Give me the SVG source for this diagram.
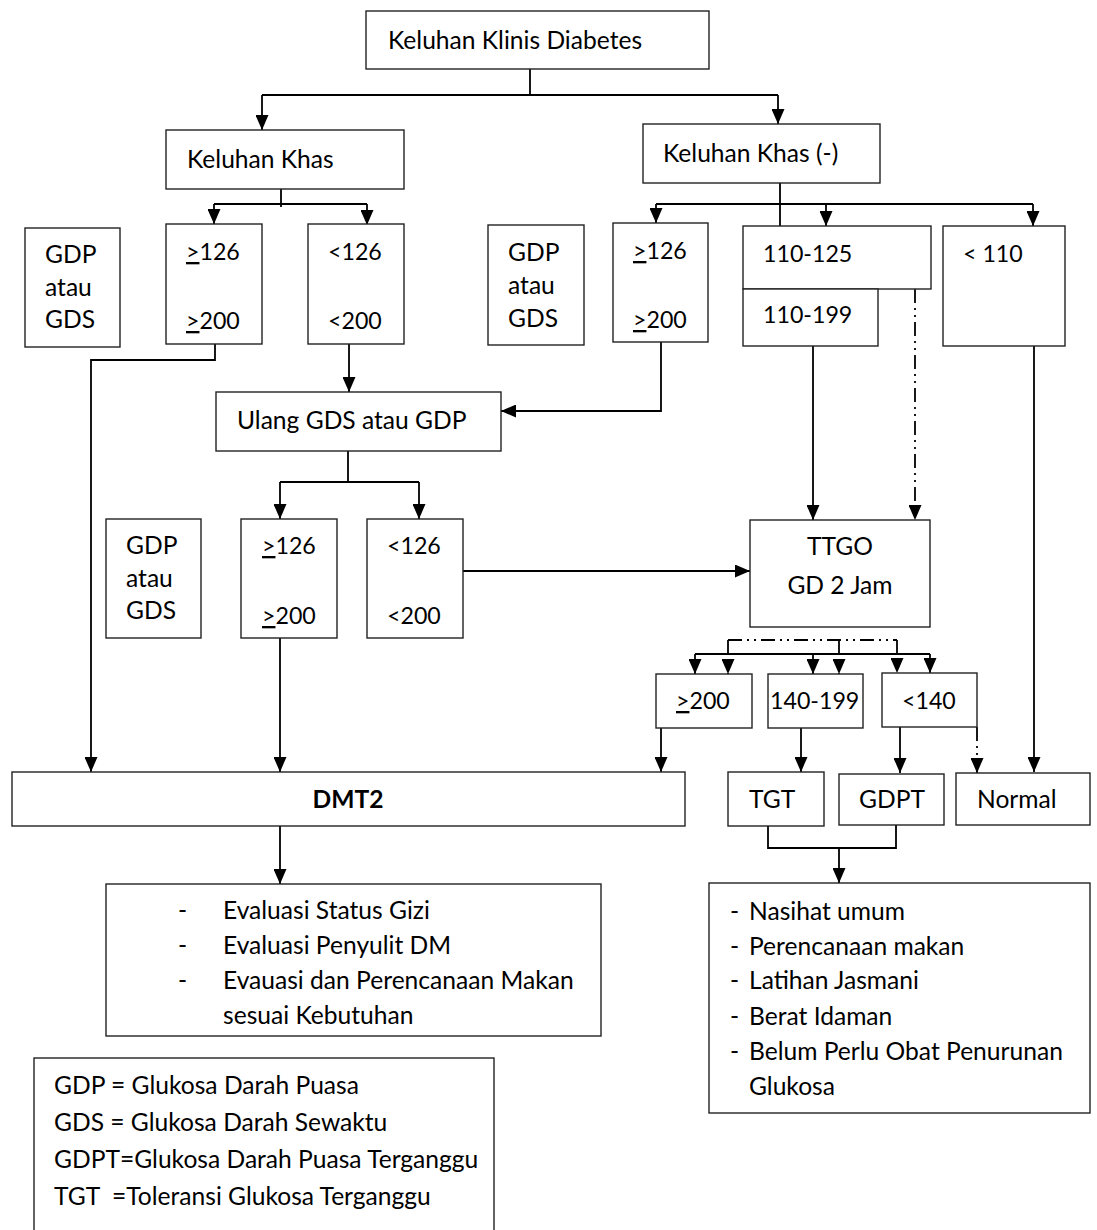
<svg xmlns="http://www.w3.org/2000/svg" width="1097" height="1230" viewBox="0 0 1097 1230">
  <style>
    .box { fill: #fff; stroke: #222; stroke-width: 1.4; }
    .t { font-family: Lato, "Liberation Sans", sans-serif; font-size: 24.6px; fill: #000; }
    .n { font-size: 23.2px; }
    .c { text-anchor: middle; }
    .b { font-weight: bold; }
    .ln { fill: none; stroke: #000; stroke-width: 1.8; }
    .dd { fill: none; stroke: #000; stroke-width: 1.8; stroke-dasharray: 14 5 2 5 2 5; }
    .u { text-decoration: underline; }
  </style>
  <defs>
    <marker id="arrow" viewBox="0 0 15 13" refX="15" refY="6.5" markerWidth="15" markerHeight="13" markerUnits="userSpaceOnUse" orient="auto">
      <path d="M0,0 L15,6.5 L0,13 z" fill="#000"/>
    </marker>
  </defs>

  <!-- connectors -->
  <g id="connectors">
    <path class="ln" d="M530,69 V95 M262,95 H778"/>
    <path class="ln" d="M262,95 V130" marker-end="url(#arrow)"/>
    <path class="ln" d="M778,95 V124" marker-end="url(#arrow)"/>

    <path class="ln" d="M281,189 V207 M214,204 H367"/>
    <path class="ln" d="M214,204 V224" marker-end="url(#arrow)"/>
    <path class="ln" d="M367,204 V225" marker-end="url(#arrow)"/>

    <path class="ln" d="M780,183 V226 M656,204 H1033"/>
    <path class="ln" d="M656,204 V223" marker-end="url(#arrow)"/>
    <path class="ln" d="M826,204 V226" marker-end="url(#arrow)"/>
    <path class="ln" d="M1033,204 V226" marker-end="url(#arrow)"/>

    <path class="ln" d="M215,344 V360 H91 V772" marker-end="url(#arrow)"/>
    <path class="ln" d="M349,344 V392" marker-end="url(#arrow)"/>
    <path class="ln" d="M661,342 V411 H501" marker-end="url(#arrow)"/>
    <path class="ln" d="M813,346 V520" marker-end="url(#arrow)"/>
    <path class="dd" d="M915,289 V520" marker-end="url(#arrow)"/>
    <path class="ln" d="M1034,346 V772" marker-end="url(#arrow)"/>

    <path class="ln" d="M348,451 V482 M280,482 H419"/>
    <path class="ln" d="M280,482 V519" marker-end="url(#arrow)"/>
    <path class="ln" d="M419,482 V519" marker-end="url(#arrow)"/>

    <path class="ln" d="M463,571 H750" marker-end="url(#arrow)"/>
    <path class="ln" d="M280,638 V772" marker-end="url(#arrow)"/>

    <path class="dd" d="M728,640 H897"/>
    <path class="dd" d="M728,640 V674" marker-end="url(#arrow)"/>
    <path class="dd" d="M839,640 V674" marker-end="url(#arrow)"/>
    <path class="dd" d="M897,640 V673" marker-end="url(#arrow)"/>
    <path class="ln" d="M695,654 H930"/>
    <path class="ln" d="M695,654 V674" marker-end="url(#arrow)"/>
    <path class="ln" d="M813,654 V674" marker-end="url(#arrow)"/>
    <path class="ln" d="M930,654 V673" marker-end="url(#arrow)"/>

    <path class="ln" d="M661,728 V772" marker-end="url(#arrow)"/>
    <path class="ln" d="M801,727 V772" marker-end="url(#arrow)"/>
    <path class="ln" d="M900,727 V773" marker-end="url(#arrow)"/>
    <path class="dd" d="M977,727 V773" marker-end="url(#arrow)"/>

    <path class="ln" d="M280,826 V884" marker-end="url(#arrow)"/>
    <path class="ln" d="M768,826 V848 H896 V825"/>
    <path class="ln" d="M839,848 V883" marker-end="url(#arrow)"/>
  </g>

  <!-- nodes -->
  <g id="n-top"><rect class="box" x="366" y="11" width="343" height="58"/>
    <text class="t" x="388" y="49">Keluhan Klinis Diabetes</text></g>
  <g id="n-khas"><rect class="box" x="166" y="130" width="238" height="59"/>
    <text class="t" x="187" y="168">Keluhan Khas</text></g>
  <g id="n-khas-neg"><rect class="box" x="643" y="124" width="237" height="59"/>
    <text class="t" x="663" y="162">Keluhan Khas (-)</text></g>

  <g id="n-gdp1"><rect class="box" x="25" y="228" width="95" height="119"/>
    <text class="t" x="45" y="263">GDP</text><text class="t" x="45" y="296">atau</text><text class="t" x="45" y="328">GDS</text></g>
  <g id="n-ge1"><rect class="box" x="166" y="224" width="96" height="120"/>
    <text class="t n" x="186" y="260"><tspan class="u">&gt;</tspan>126</text><text class="t n" x="186" y="329"><tspan class="u">&gt;</tspan>200</text></g>
  <g id="n-lt1"><rect class="box" x="308" y="224" width="96" height="120"/>
    <text class="t n" x="328" y="260">&lt;126</text><text class="t n" x="328" y="329">&lt;200</text></g>

  <g id="n-gdp2"><rect class="box" x="488" y="225" width="96" height="120"/>
    <text class="t" x="508" y="261">GDP</text><text class="t" x="508" y="294">atau</text><text class="t" x="508" y="327">GDS</text></g>
  <g id="n-ge2"><rect class="box" x="613" y="223" width="95" height="119"/>
    <text class="t n" x="633" y="259"><tspan class="u">&gt;</tspan>126</text><text class="t n" x="633" y="328"><tspan class="u">&gt;</tspan>200</text></g>
  <g id="n-110-125"><rect class="box" x="743" y="226" width="188" height="63"/>
    <text class="t n" x="763" y="262">110-125</text></g>
  <g id="n-110-199"><rect class="box" x="743" y="289" width="135" height="57"/>
    <text class="t n" x="763" y="323">110-199</text></g>
  <g id="n-lt110"><rect class="box" x="943" y="226" width="122" height="120"/>
    <text class="t n" x="963" y="262">&lt; 110</text></g>

  <g id="n-ulang"><rect class="box" x="216" y="392" width="285" height="59"/>
    <text class="t" x="237" y="429">Ulang GDS atau GDP</text></g>

  <g id="n-gdp3"><rect class="box" x="106" y="519" width="95" height="119"/>
    <text class="t" x="126" y="554">GDP</text><text class="t" x="126" y="587">atau</text><text class="t" x="126" y="619">GDS</text></g>
  <g id="n-ge3"><rect class="box" x="241" y="519" width="96" height="119"/>
    <text class="t n" x="262" y="554"><tspan class="u">&gt;</tspan>126</text><text class="t n" x="262" y="624"><tspan class="u">&gt;</tspan>200</text></g>
  <g id="n-lt3"><rect class="box" x="367" y="519" width="96" height="119"/>
    <text class="t n" x="387" y="554">&lt;126</text><text class="t n" x="387" y="624">&lt;200</text></g>

  <g id="n-ttgo"><rect class="box" x="750" y="520" width="180" height="107"/>
    <text class="t c" x="840" y="555">TTGO</text><text class="t c" x="840" y="594">GD 2 Jam</text></g>

  <g id="n-ge200"><rect class="box" x="656" y="674" width="96" height="54"/>
    <text class="t n" x="676" y="709"><tspan class="u">&gt;</tspan>200</text></g>
  <g id="n-140-199"><rect class="box" x="768" y="674" width="95" height="54"/>
    <text class="t n" x="770" y="709">140-199</text></g>
  <g id="n-lt140"><rect class="box" x="882" y="673" width="95" height="54"/>
    <text class="t n" x="902" y="709">&lt;140</text></g>

  <g id="n-dmt2"><rect class="box" x="12" y="772" width="673" height="54"/>
    <text class="t c b" x="348" y="808">DMT2</text></g>
  <g id="n-tgt"><rect class="box" x="728" y="772" width="96" height="54"/>
    <text class="t" x="749" y="808">TGT</text></g>
  <g id="n-gdpt"><rect class="box" x="839" y="774" width="105" height="51"/>
    <text class="t" x="859" y="808">GDPT</text></g>
  <g id="n-normal"><rect class="box" x="956" y="773" width="134" height="52"/>
    <text class="t" x="977" y="808">Normal</text></g>

  <g id="n-eval"><rect class="box" x="106" y="884" width="495" height="152"/>
    <text class="t" x="178" y="919">-</text><text class="t" x="223" y="919">Evaluasi Status Gizi</text>
    <text class="t" x="178" y="954">-</text><text class="t" x="223" y="954">Evaluasi Penyulit DM</text>
    <text class="t" x="178" y="989">-</text><text class="t" x="223" y="989">Evauasi dan Perencanaan Makan</text>
    <text class="t" x="223" y="1024">sesuai Kebutuhan</text></g>

  <g id="n-advice"><rect class="box" x="709" y="883" width="381" height="230"/>
    <text class="t" x="730" y="920">-</text><text class="t" x="749" y="920">Nasihat umum</text>
    <text class="t" x="730" y="955">-</text><text class="t" x="749" y="955">Perencanaan makan</text>
    <text class="t" x="730" y="989">-</text><text class="t" x="749" y="989">Latihan Jasmani</text>
    <text class="t" x="730" y="1025">-</text><text class="t" x="749" y="1025">Berat Idaman</text>
    <text class="t" x="730" y="1060">-</text><text class="t" x="749" y="1060">Belum Perlu Obat Penurunan</text>
    <text class="t" x="749" y="1095">Glukosa</text></g>

  <g id="n-legend"><rect class="box" x="34" y="1058" width="460" height="190"/>
    <text class="t" x="54" y="1094">GDP = Glukosa Darah Puasa</text>
    <text class="t" x="54" y="1131">GDS = Glukosa Darah Sewaktu</text>
    <text class="t" x="54" y="1168">GDPT=Glukosa Darah Puasa Terganggu</text>
    <text class="t" x="54" y="1205" xml:space="preserve">TGT  =Toleransi Glukosa Terganggu</text></g>
</svg>
